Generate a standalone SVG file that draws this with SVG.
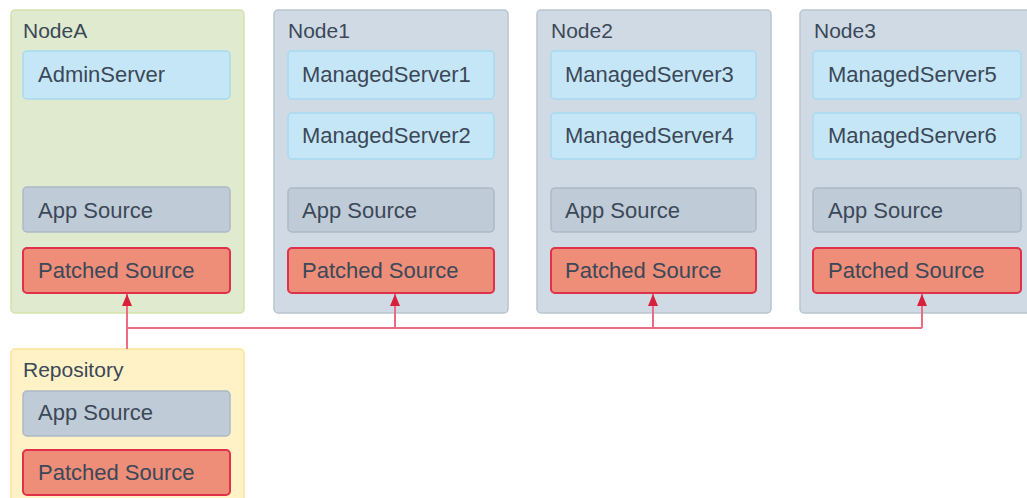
<svg xmlns="http://www.w3.org/2000/svg" width="1027" height="498" viewBox="0 0 1027 498">
<style>
text{font-family:"Liberation Sans",Arial,sans-serif;fill:#3b4858}
.title{font-size:21px}
.lbl{font-size:22px}
.nodeA{fill:#e0eacf;stroke:#d3e2ac;stroke-width:1.5}
.node{fill:#cfdae5;stroke:#b9c5d0;stroke-width:1.5}
.repo{fill:#fff2c7;stroke:#fbe49a;stroke-width:1.5}
.srv{fill:#c5e6f6;stroke:#a6daef;stroke-width:1.5}
.app{fill:#bfcbd7;stroke:#adb9c6;stroke-width:1.5}
.pat{fill:#ee8e78;stroke:#e0304a;stroke-width:2}
.conn{fill:none;stroke:#ec6c84;stroke-width:2}
</style>
<defs>
<marker id="ah" markerWidth="12" markerHeight="10" refX="12" refY="5" orient="auto" markerUnits="userSpaceOnUse" viewBox="0 0 12 10">
<path d="M0,0 L12,5 L0,10 Z" fill="#d9203a"/>
</marker>
</defs>
<g id="nodeA">
<rect class="nodeA" x="11" y="10" width="233" height="303" rx="4"/>
<text class="title" x="23" y="38">NodeA</text>
<rect class="srv" x="23" y="51" width="207" height="48" rx="4"/>
<text class="lbl" x="38" y="82">AdminServer</text>
<rect class="app" x="23" y="187" width="207" height="45" rx="4"/>
<text class="lbl" x="38" y="218">App Source</text>
<rect class="pat" x="23" y="248" width="207" height="45" rx="4"/>
<text class="lbl" x="38" y="278">Patched Source</text>
</g>
<g id="node1">
<rect class="node" x="274" y="10" width="234" height="303" rx="4"/>
<text class="title" x="288" y="38">Node1</text>
<rect class="srv" x="288" y="51" width="206" height="48" rx="4"/>
<text class="lbl" x="302" y="82">ManagedServer1</text>
<rect class="srv" x="288" y="113" width="206" height="46" rx="4"/>
<text class="lbl" x="302" y="143">ManagedServer2</text>
<rect class="app" x="288" y="188" width="206" height="44" rx="4"/>
<text class="lbl" x="302" y="218">App Source</text>
<rect class="pat" x="288" y="248" width="206" height="45" rx="4"/>
<text class="lbl" x="302" y="278">Patched Source</text>
</g>
<g id="node2">
<rect class="node" x="537" y="10" width="234" height="303" rx="4"/>
<text class="title" x="551" y="38">Node2</text>
<rect class="srv" x="551" y="51" width="205" height="48" rx="4"/>
<text class="lbl" x="565" y="82">ManagedServer3</text>
<rect class="srv" x="551" y="113" width="205" height="46" rx="4"/>
<text class="lbl" x="565" y="143">ManagedServer4</text>
<rect class="app" x="551" y="188" width="205" height="44" rx="4"/>
<text class="lbl" x="565" y="218">App Source</text>
<rect class="pat" x="551" y="248" width="205" height="45" rx="4"/>
<text class="lbl" x="565" y="278">Patched Source</text>
</g>
<g id="node3">
<rect class="node" x="800" y="10" width="240" height="303" rx="4"/>
<text class="title" x="814" y="38">Node3</text>
<rect class="srv" x="813" y="51" width="208" height="48" rx="4"/>
<text class="lbl" x="828" y="82">ManagedServer5</text>
<rect class="srv" x="813" y="113" width="208" height="46" rx="4"/>
<text class="lbl" x="828" y="143">ManagedServer6</text>
<rect class="app" x="813" y="188" width="208" height="44" rx="4"/>
<text class="lbl" x="828" y="218">App Source</text>
<rect class="pat" x="813" y="248" width="208" height="45" rx="4"/>
<text class="lbl" x="828" y="278">Patched Source</text>
</g>
<g id="repository">
<rect class="repo" x="11" y="349" width="233" height="160" rx="4"/>
<text class="title" x="23" y="377">Repository</text>
<rect class="app" x="23" y="391" width="207" height="45" rx="4"/>
<text class="lbl" x="38" y="420">App Source</text>
<rect class="pat" x="23" y="450" width="207" height="45" rx="4"/>
<text class="lbl" x="38" y="480">Patched Source</text>
</g>
<g id="connectors">
<path class="conn" d="M127,349 V328 H922"/>
<path class="conn" d="M127,328 V294" marker-end="url(#ah)"/>
<path class="conn" d="M395,328 V294" marker-end="url(#ah)"/>
<path class="conn" d="M653,328 V294" marker-end="url(#ah)"/>
<path class="conn" d="M922,328 V294" marker-end="url(#ah)"/>
</g>
</svg>
